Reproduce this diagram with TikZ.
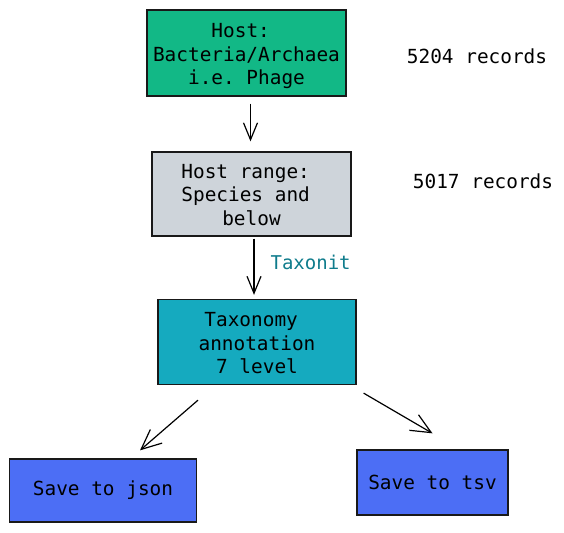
\documentclass[tikz,border=0pt]{standalone}
\usepackage{fontspec}
\setmonofont{DejaVu Sans Mono}
\usetikzlibrary{arrows.meta}
\definecolor{cgreen}{HTML}{12B886}
\definecolor{cgrey}{HTML}{CED4DA}
\definecolor{ccyan}{HTML}{15AABF}
\definecolor{cblue}{HTML}{4C6EF5}
\definecolor{cteal}{HTML}{0F7C8C}
\tikzset{
  box/.style={draw=black!90, line width=1.3pt, inner sep=0pt, align=center,
    font=\ttfamily\fontsize{19.4}{23.5}\selectfont},
  note/.style={inner sep=0pt, font=\ttfamily\fontsize{19.4}{23.5}\selectfont},
  lbl/.style={inner sep=0pt, text=cteal, font=\ttfamily\fontsize{19}{22}\selectfont},
  flow/.style={line width=1.2pt, -{Straight Barb[length=17pt,width=14pt,line width=1.2pt]}},
  bigflow/.style={line width=1.2pt, -{Straight Barb[length=20pt,width=18pt,line width=1.2pt]}}
}
\begin{document}
\begin{tikzpicture}[x=1pt,y=-1pt]
\useasboundingbox (0,0) rectangle (564,532);
\node[box, fill=cgreen, minimum width=199pt, minimum height=86pt] (host) at (246.5,53)
  {\rule{0pt}{20.5pt}Host:\phantom{x}\\Bacteria/Archaea\\i.e. Phage};
\node[box, fill=cgrey, minimum width=199pt, minimum height=84pt] (range) at (251.5,194)
  {\rule{0pt}{16pt}Host range:\phantom{x}\\Species and\phantom{x}\\below};
\node[box, fill=ccyan, minimum width=198pt, minimum height=85pt] (tax) at (257,342)
  {\rule{0pt}{16.5pt}Taxonomy\phantom{x}\\annotation\\7 level};
\node[box, fill=cblue, minimum width=187pt, minimum height=63pt] (json) at (103,490.5)
  {Save to json};
\node[box, fill=cblue, minimum width=151pt, minimum height=65pt] (tsv) at (432.5,482.5)
  {Save to tsv};
\node[note] (n1) at (477,56) {5204 records};
\node[note] (n2) at (483,181) {5017 records};
\draw[flow] ([xshift=4pt,yshift=-7pt]host.south) -- ([xshift=-1pt,yshift=10pt]range.north);
\draw[flow] ([xshift=2.5pt,yshift=-2pt]range.south) --
  node[lbl, pos=0.42, anchor=west, xshift=16pt] (tx) {Taxonit}
  ([xshift=-3pt,yshift=4pt]tax.north);
\draw[bigflow] ([xshift=-59pt,yshift=-15pt]tax.south) -- ([xshift=37pt,yshift=8pt]json.north);
\draw[bigflow] ([xshift=7pt,yshift=-8pt]tax.south east) -- ([yshift=16pt]tsv.north);
\end{tikzpicture}
\end{document}
